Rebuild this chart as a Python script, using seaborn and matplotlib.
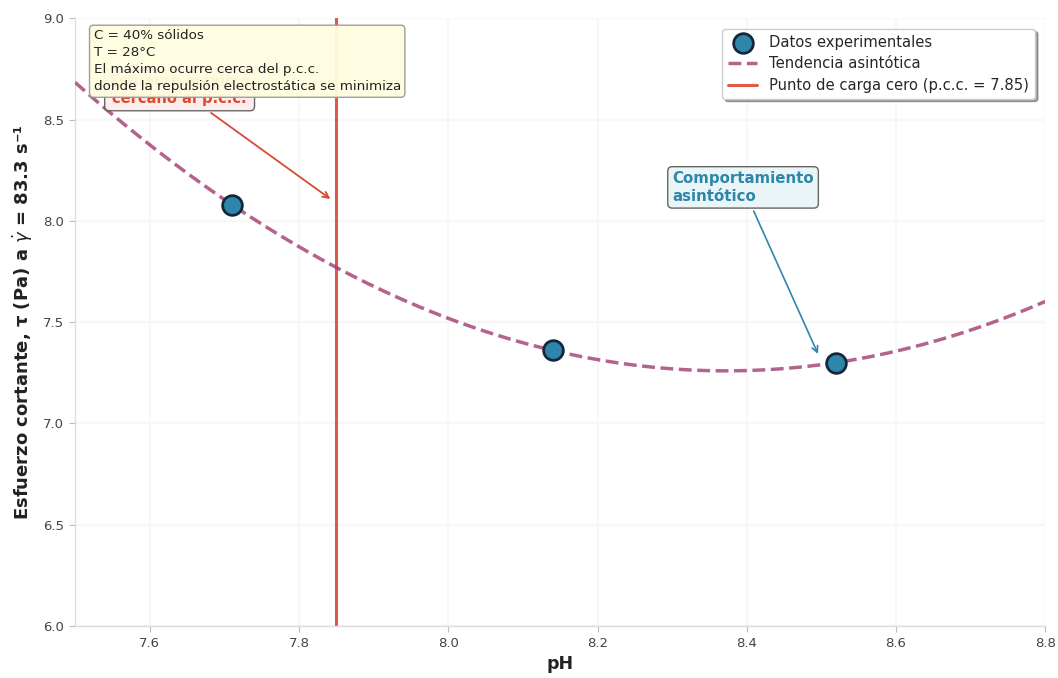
import numpy as np
import pandas as pd
import matplotlib
matplotlib.use("Agg")
import matplotlib.pyplot as plt
import seaborn as sns

# Data
ph_values = [7.71, 8.14, 8.52]
shear_values = [8.08, 7.36, 7.30]
pcc_value = 7.85
x_ticks = [7.6, 7.8, 8.0, 8.2, 8.4, 8.6, 8.8]
y_ticks = [6.0, 6.5, 7.0, 7.5, 8.0, 8.5, 9.0]

df = pd.DataFrame({"pH": ph_values, "tau": shear_values})

sns.set_theme(style="whitegrid")
plt.rcParams["font.family"] = ["DejaVu Sans"]

fig, ax = plt.subplots(figsize=(10.58, 6.78), dpi=100)
fig.subplots_adjust(left=0.071, right=0.988, bottom=0.077, top=0.973)

ax.set_xlim(7.5, 8.8)
ax.set_ylim(6.0, 9.0)

# Trend (quadratic fit through the data, drawn by seaborn)
sns.regplot(data=df, x="pH", y="tau", order=2, ci=None, scatter=False,
            truncate=False, ax=ax, label="Tendencia asintótica",
            line_kws=dict(color="#A23B72", lw=2.5, ls="--", alpha=0.8,
                          zorder=3))

# Point of zero charge
ax.axvline(pcc_value, color="#D94A35", lw=2.2, alpha=0.9, zorder=2,
           label="Punto de carga cero (p.c.c. = 7.85)")

# Experimental data
sns.scatterplot(data=df, x="pH", y="tau", ax=ax, s=200, color="#2E86AB",
                edgecolor="#15283A", linewidth=2, zorder=5,
                label="Datos experimentales")

ax.set_xlim(7.5, 8.8)
ax.set_ylim(6.0, 9.0)
ax.set_xticks(x_ticks)
ax.set_yticks(y_ticks)
ax.set_xticklabels([f"{v:.1f}" for v in x_ticks])
ax.set_yticklabels([f"{v:.1f}" for v in y_ticks])
ax.tick_params(axis="both", labelsize=9.5, colors="#444444", length=4,
               width=0.8, direction="out", left=True, bottom=True, pad=4)
ax.tick_params(axis="both", color="#bbbbbb")

ax.set_xlabel("pH", fontsize=12.5, fontweight="bold", color="#222222",
              labelpad=4)
ax.set_ylabel(r"Esfuerzo cortante, τ (Pa) a $\dot{\gamma}$ = 83.3 s⁻¹",
              fontsize=13, fontweight="bold", color="#222222", labelpad=6)

ax.grid(True, color="#f7f7f7", lw=1.5)
sns.despine(ax=ax)
for s in ["left", "bottom"]:
    ax.spines[s].set_color("#dddddd")
    ax.spines[s].set_linewidth(1.0)

# Legend order: data, trend, pcc
handles, labels = ax.get_legend_handles_labels()
order = ["Datos experimentales", "Tendencia asintótica",
         "Punto de carga cero (p.c.c. = 7.85)"]
hd = dict(zip(labels, handles))
keep = [k for k in order if k in hd]
ax.legend([hd[k] for k in keep], keep, loc="upper right", fontsize=10.6,
          frameon=True, shadow=True, fancybox=True, framealpha=1,
          edgecolor="#cccccc", bbox_to_anchor=(0.997, 0.995),
          labelspacing=0.45)

# Red annotation (partly hidden behind the info box)
ax.annotate("Esfuerzo máximo\ncercano al p.c.c.", xy=(7.845, 8.10),
            xytext=(7.64, 8.645), ha="center", va="center",
            fontsize=10.5, fontweight="bold", color="#D94A35",
            bbox=dict(boxstyle="round,pad=0.3", fc="#FDECEA", ec="#555555",
                      alpha=0.9),
            arrowprops=dict(arrowstyle="->", color="#D94A35", lw=1.3),
            zorder=6)

# Blue annotation
ax.annotate("Comportamiento\nasintótico", xy=(8.497, 7.33),
            xytext=(8.395, 8.165), ha="center", va="center",
            multialignment="left",
            fontsize=10.8, fontweight="bold", color="#2E86AB",
            bbox=dict(boxstyle="round,pad=0.3", fc="#E8F4F8", ec="#555555",
                      alpha=0.9),
            arrowprops=dict(arrowstyle="->", color="#2E86AB", lw=1.2),
            zorder=6)

# Info box
ax.text(0.019, 0.982,
        "C = 40% sólidos\nT = 28°C\nEl máximo ocurre cerca del p.c.c.\n"
        "donde la repulsión electrostática se minimiza",
        transform=ax.transAxes, ha="left", va="top", fontsize=9.7,
        color="#222222", linespacing=1.4,
        bbox=dict(boxstyle="round,pad=0.3", fc="#FFFDE0", ec="#999999",
                  alpha=0.95), zorder=7)

fig.savefig("out.png", dpi=100)
